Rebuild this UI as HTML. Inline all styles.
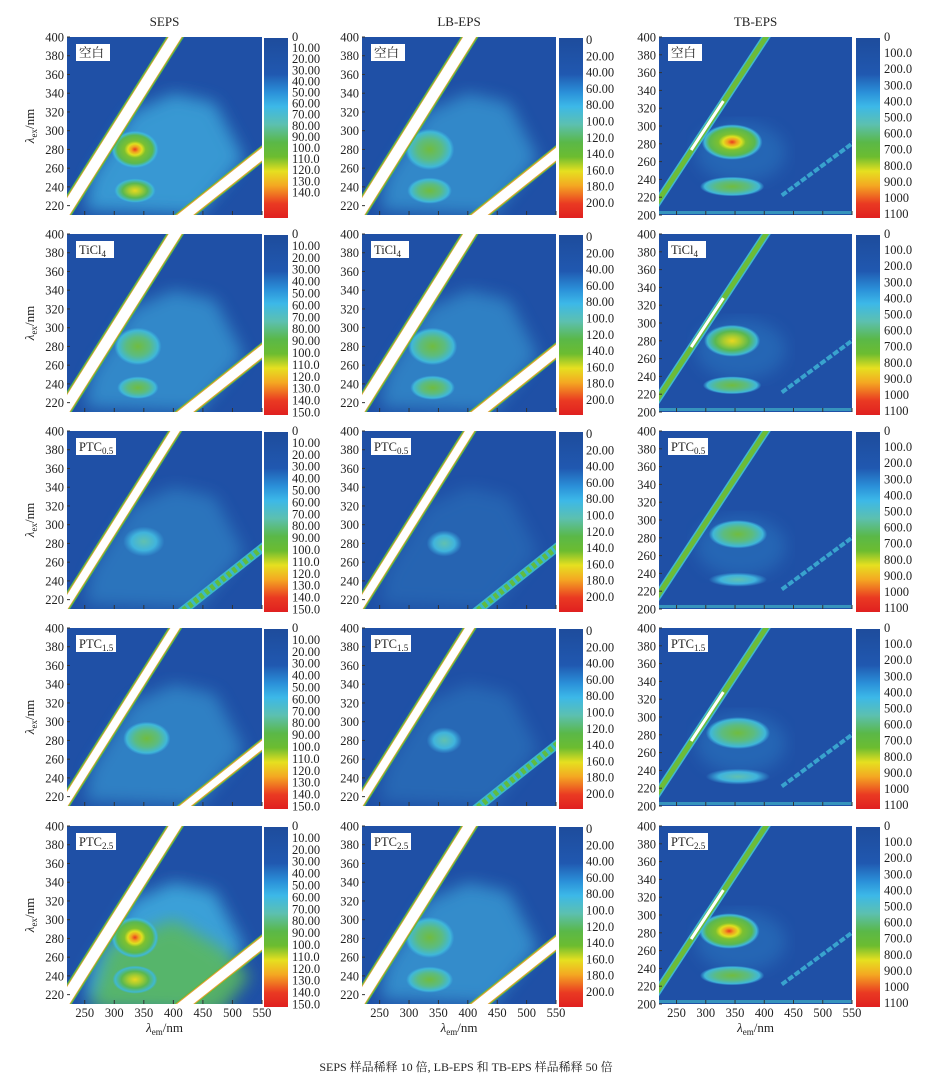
<!DOCTYPE html><html><head><meta charset="utf-8"><style>
body{margin:0;background:#fff;width:932px;height:1081px;overflow:hidden}
svg text{font-family:"Liberation Serif","Noto Serif CJK SC",serif;fill:#222}
</style></head><body>
<svg id="s" width="932" height="1081" xmlns="http://www.w3.org/2000/svg">
<defs>
<linearGradient id="cb" x1="0" y1="0" x2="0" y2="1">
<stop offset="0" stop-color="#1e4c9c"/><stop offset="0.2" stop-color="#2058b0"/><stop offset="0.3" stop-color="#2a8fd8"/><stop offset="0.38" stop-color="#3cb8e8"/><stop offset="0.48" stop-color="#5cc0b0"/><stop offset="0.58" stop-color="#5ab848"/><stop offset="0.66" stop-color="#6cbc30"/><stop offset="0.74" stop-color="#e6e020"/><stop offset="0.82" stop-color="#f4a822"/><stop offset="0.92" stop-color="#ea3a22"/><stop offset="1" stop-color="#e02020"/></linearGradient>
<radialGradient id="hi"><stop offset="0" stop-color="#e83a20"/><stop offset="0.15" stop-color="#f0a020"/><stop offset="0.3" stop-color="#e0e020"/><stop offset="0.45" stop-color="#7cc030"/><stop offset="0.75" stop-color="#5ab850"/><stop offset="0.9" stop-color="#40b8d8"/><stop offset="1" stop-color="#3ab0e0" stop-opacity="0"/></radialGradient>
<radialGradient id="yl"><stop offset="0" stop-color="#e8d820"/><stop offset="0.3" stop-color="#a8cc30"/><stop offset="0.6" stop-color="#5ab850"/><stop offset="0.88" stop-color="#40b8d0"/><stop offset="1" stop-color="#3ab0e0" stop-opacity="0"/></radialGradient>
<radialGradient id="md"><stop offset="0" stop-color="#70bc40"/><stop offset="0.5" stop-color="#5cbc80"/><stop offset="0.85" stop-color="#40b8d8"/><stop offset="1" stop-color="#3ab0e0" stop-opacity="0"/></radialGradient>
<radialGradient id="lo"><stop offset="0" stop-color="#60c0b0"/><stop offset="0.6" stop-color="#40b4dc"/><stop offset="1" stop-color="#3aa8e0" stop-opacity="0"/></radialGradient>
<filter id="bl"><feGaussianBlur stdDeviation="8"/></filter>
</defs>
</svg>
<script>
var s=document.getElementById('s'),NS='http://www.w3.org/2000/svg',o='';
var cols=[{x:67,w:195,cb:264,lab:292,lo:210},{x:362,w:194,cb:559,lab:586,lo:210},{x:659,w:193,cb:856,lab:884,lo:200}];
var rows=[37,234,431,628,826],H=178;
var names=['空白','TiCl<tspan font-size="9" dy="3">4</tspan>','PTC<tspan font-size="9" dy="3">0.5</tspan>','PTC<tspan font-size="9" dy="3">1.5</tspan>','PTC<tspan font-size="9" dy="3">2.5</tspan>'];
var BG='#1f50a6';
// blobs: [em,ex,rxnm,rynm,grad]
var B=[
[[[[335,280,40,20,'hi'],[335,236,35,13,'yl']],0.9],[[[340,280,40,20,'md'],[340,236,35,12,'md']],0.7],[[[350,282,35,16,'lo']],0.45],[[[355,282,40,18,'md']],0.6],[[[335,281,40,22,'hi'],[335,236,38,15,'yl']],1.0]],
[[[[335,280,42,22,'md'],[335,236,38,14,'md']],0.7],[[[340,280,42,20,'md'],[340,236,38,13,'md']],0.6],[[[360,280,30,14,'lo']],0.25],[[[360,280,30,14,'lo']],0.3],[[[335,281,42,22,'md'],[335,236,40,14,'md']],0.75]],
[[[[345,282,52,20,'hi'],[345,232,55,11,'md']],0.2],[[[345,280,48,18,'yl'],[345,230,50,10,'md']],0.2],[[[355,284,50,16,'md'],[355,233,50,8,'lo']],0.15],[[[355,282,55,18,'md'],[355,233,55,9,'lo']],0.2],[[[340,282,52,20,'hi'],[345,232,55,11,'md']],0.2]]
];
var labs=[
['0','10.00','20.00','30.00','40.00','50.00','60.00','70.00','80.00','90.00','100.0','110.0','120.0','130.0','140.0'],
['0','20.00','40.00','60.00','80.00','100.0','120.0','140.0','160.0','180.0','200.0'],
['0','100.0','200.0','300.0','400.0','500.0','600.0','700.0','800.0','900.0','1000','1100']];
var titles=['SEPS','LB-EPS','TB-EPS'];
for(var c=0;c<3;c++){var C=cols[c];
o+='<text x="'+(C.x+C.w/2)+'" y="26" font-size="13" text-anchor="middle">'+titles[c]+'</text>';
for(var r=0;r<5;r++){var T=rows[r];
var X=function(em){return C.x+(em-220)/330*C.w},Y=function(ex){return T+H-(ex-C.lo)/(400-C.lo)*H};
var id='c'+c+r;
o+='<clipPath id="'+id+'"><rect x="'+C.x+'" y="'+T+'" width="'+C.w+'" height="'+H+'"/></clipPath>';
o+='<g clip-path="url(#'+id+')"><rect x="'+C.x+'" y="'+T+'" width="'+C.w+'" height="'+H+'" fill="'+BG+'"/>';
var d=B[c][r],hz=d[1];
if(c<2){o+='<polygon filter="url(#bl)" fill="#3aa0d8" opacity="'+hz+'" points="'+X(250)+','+Y(215)+' '+X(260)+','+Y(250)+' '+X(330)+','+Y(320)+' '+X(400)+','+Y(340)+' '+X(470)+','+Y(330)+' '+X(520)+','+Y(270)+' '+X(440)+','+Y(210)+'"/>';
if(c==0&&r==4)o+='<polygon filter="url(#bl)" fill="#5ab860" opacity="0.9" points="'+X(260)+','+Y(205)+' '+X(290)+','+Y(270)+' '+X(400)+','+Y(300)+' '+X(480)+','+Y(270)+' '+X(530)+','+Y(240)+' '+X(480)+','+Y(200)+'"/>';}
else o+='<ellipse cx="'+X(360)+'" cy="'+Y(270)+'" rx="45" ry="30" fill="#3090d0" opacity="0.35" filter="url(#bl)"/>';
d[0].forEach(function(b){o+='<ellipse cx="'+X(b[0])+'" cy="'+Y(b[1])+'" rx="'+(b[2]/330*C.w)+'" ry="'+(b[3]/(400-C.lo)*H)+'" fill="url(#'+b[4]+')"/>';});
var l1=X(190)+','+Y(187)+' '+X(410)+','+Y(407),l2=X(380)+','+Y(190)+' '+X(600)+','+Y(300);
if(c<2){var w=(c==0&&r<2||c==0&&r==4||c==1&&r<2||c==1&&r==4)?11:8;
o+='<polyline points="'+l1+'" stroke="#5ab848" stroke-width="'+(w+4)+'" fill="none"/><polyline points="'+l1+'" stroke="#e8a030" stroke-width="'+(w+1.5)+'" fill="none"/><polyline points="'+l1+'" stroke="#fff" stroke-width="'+w+'" fill="none"/>';
if(r==2||r==3&&c==1)o+='<polyline points="'+l2+'" stroke="#3cb8c8" stroke-width="9" fill="none"/><polyline points="'+l2+'" stroke="#60bc40" stroke-width="6" fill="none" stroke-dasharray="4 3"/>';
else o+='<polyline points="'+l2+'" stroke="#5ab848" stroke-width="'+(w+3)+'" fill="none"/><polyline points="'+l2+'" stroke="#e8a030" stroke-width="'+(w+1)+'" fill="none"/><polyline points="'+l2+'" stroke="#fff" stroke-width="'+(w-1)+'" fill="none"/>';}
else{o+='<polyline points="'+l1+'" stroke="#40b8d0" stroke-width="8" fill="none"/><polyline points="'+l1+'" stroke="#6cbc38" stroke-width="5" fill="none"/>';
if(r!=2)o+='<line x1="'+X(275)+'" y1="'+Y(273)+'" x2="'+X(330)+'" y2="'+Y(328)+'" stroke="#fff" stroke-width="3"/>';
o+='<line x1="'+X(430)+'" y1="'+Y(222)+'" x2="'+X(560)+'" y2="'+Y(285)+'" stroke="#40b8d8" stroke-width="4" stroke-dasharray="6 2" opacity="0.8"/>';
o+='<rect x="'+C.x+'" y="'+(T+H-4)+'" width="'+C.w+'" height="3" fill="#40b0c8" opacity="0.7"/>';}
o+='</g>';
// ticks
for(var em=250;em<=550;em+=50)o+='<line x1="'+X(em)+'" y1="'+(T+H)+'" x2="'+X(em)+'" y2="'+(T+H-4)+'" stroke="#333"/>';
for(var ex=(c<2?220:200);ex<=400;ex+=20){o+='<text x="'+(C.x-3)+'" y="'+(Y(ex)+4.5)+'" font-size="12.5" text-anchor="end">'+ex+'</text>';o+='<line x1="'+C.x+'" y1="'+Y(ex)+'" x2="'+(C.x+3)+'" y2="'+Y(ex)+'" stroke="#333"/>';}
if(r==4)for(var em=250;em<=550;em+=50)o+='<text x="'+X(em)+'" y="'+(T+H+13)+'" font-size="12.5" text-anchor="middle">'+em+'</text>';
// label box
o+='<rect x="'+(C.x+9)+'" y="'+(T+7)+'" width="'+(r==0?34:r==1?38:40)+'" height="17" fill="#fff"/><text x="'+(C.x+12)+'" y="'+(T+20)+'" font-size="12.5" fill="#111">'+names[r]+'</text>';
// colorbar
var L=labs[c].slice();if(c==0&&r>0)L.push('150.0');
o+='<rect x="'+C.cb+'" y="'+(T+1)+'" width="24" height="'+(H+2)+'" fill="url(#cb)"/>';
var st=(c==0?(r==0?11.1:11.9):c==1?16.3:16.1),y0=T+4+(c==1?3:0);
L.forEach(function(t,i){o+='<text x="'+C.lab+'" y="'+(y0+i*st)+'" font-size="12.5">'+t+'</text>';});
}
if(c==0){for(var r=0;r<5;r++)o+='<text transform="translate(34,'+(rows[r]+H/2)+') rotate(-90)" font-size="13" text-anchor="middle"><tspan font-style="italic">λ</tspan><tspan font-size="9" dy="3">ex</tspan><tspan dy="-3">/nm</tspan></text>';}
o+='<text x="'+(C.x+C.w/2)+'" y="1032" font-size="13" text-anchor="middle"><tspan font-style="italic">λ</tspan><tspan font-size="9" dy="3">em</tspan><tspan dy="-3">/nm</tspan></text>';
}
o+='<text x="466" y="1071" font-size="12" text-anchor="middle">SEPS 样品稀释 10 倍, LB-EPS 和 TB-EPS 样品稀释 50 倍</text>';
s.insertAdjacentHTML('beforeend',o);
</script>
</body></html>
